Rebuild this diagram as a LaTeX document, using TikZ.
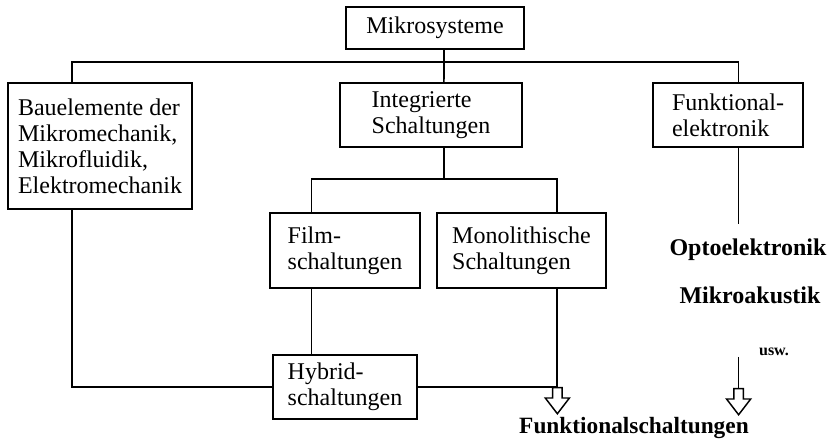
\documentclass[tikz,border=0pt]{standalone}
\usepackage{fontspec}
\setmainfont{Liberation Serif}
\usetikzlibrary{positioning, calc, shapes.arrows}

\begin{document}
\begin{tikzpicture}[
    x=0.75pt, y=-0.75pt,
    line width=1.3pt,
    kasten/.style={draw, align=left, inner sep=0pt,
                   font=\fontsize{18}{19.5}\selectfont},
    beschr/.style={font=\fontsize{18}{19.5}\selectfont\bfseries},
    hohl/.style={draw, single arrow, shape border rotate=270,
                 minimum height=19.5pt, minimum width=17pt,
                 single arrow head extend=5.5pt, single arrow tip angle=75,
                 inner sep=3pt, line width=1.1pt}
  ]
    \useasboundingbox (0,0) rectangle (833,441);
    \node[kasten, minimum width=133.5pt, minimum height=31.5pt] (sys) at (435,28)
      {Mikrosysteme};
    \node[kasten, minimum width=138pt, minimum height=94.5pt] (bau) at (100,146)
      {Bauelemente der\\Mikromechanik,\\Mikrofluidik,\\Elektromechanik};
    \node[kasten, minimum width=136.5pt, minimum height=48pt] (ic) at (431,115)
      {Integrierte\\Schaltungen};
    \node[kasten, minimum width=112.5pt, minimum height=48pt] (fe) at (728,115)
      {Funktional-\\elektronik};
    \node[kasten, minimum width=112.5pt, minimum height=56pt] (film) at (345,250.5)
      {Film-\\schaltungen};
    \node[kasten, minimum width=126.75pt, minimum height=56pt] (mono) at (521.5,250.5)
      {Monolithische\\Schaltungen};
    \node[kasten, minimum width=108pt, minimum height=48pt] (hyb) at (345,387)
      {Hybrid-\\schaltungen};
    \node[beschr] (opto) at (748,250) {Optoelektronik};
    \node[beschr] (akustik) at (750,295) {Mikroakustik};
    \node[font=\fontsize{12}{13}\selectfont\bfseries] (usw) at (774,352) {usw.};
    \node[beschr, font=\fontsize{17.5}{19}\selectfont\bfseries] (fs) at (634,428)
      {Funktionalschaltungen};

    \coordinate (sysS) at ($(sys.south west)!0.55!(sys.south east)$);
    \coordinate (bauN) at ($(bau.north west)!0.35!(bau.north east)$);
    \coordinate (bauS) at ($(bau.south west)!0.35!(bau.south east)$);
    \coordinate (icN) at ($(ic.north west)!0.57!(ic.north east)$);
    \coordinate (icS) at ($(ic.south west)!0.57!(ic.south east)$);
    \coordinate (feN) at ($(fe.north west)!0.57!(fe.north east)$);
    \coordinate (feS) at ($(fe.south west)!0.57!(fe.south east)$);
    \coordinate (filmN) at ($(film.north west)!0.28!(film.north east)$);
    \coordinate (filmS) at ($(film.south west)!0.28!(film.south east)$);
    \coordinate (monoN) at ($(mono.north west)!0.71!(mono.north east)$);
    \coordinate (monoS) at ($(mono.south west)!0.71!(mono.south east)$);

    \draw (sysS) -- (sysS |- 0,62) coordinate (bus);
    \draw (bauN) |- (bus) -| (feN);
    \draw (bus) -- (icN);
    \draw (icS) -- (icS |- 0,179) coordinate (bus2);
    \draw (filmN) |- (bus2) -| (monoN);
    \draw (filmS) -- (filmS |- hyb.north);
    \draw (bauS) |- (hyb.west);
    \draw (monoS) |- (hyb.east);
    \draw (feS) -- ++(0,76);
    \node[hohl, anchor=tail] (pfeil1) at (monoS |- hyb.east) {};
    \coordinate (uswlinie) at (feS |- 0,357);
    \draw (uswlinie) -- ++(0,31) node[hohl, anchor=tail] (pfeil2) {};
  \end{tikzpicture}
\end{document}
